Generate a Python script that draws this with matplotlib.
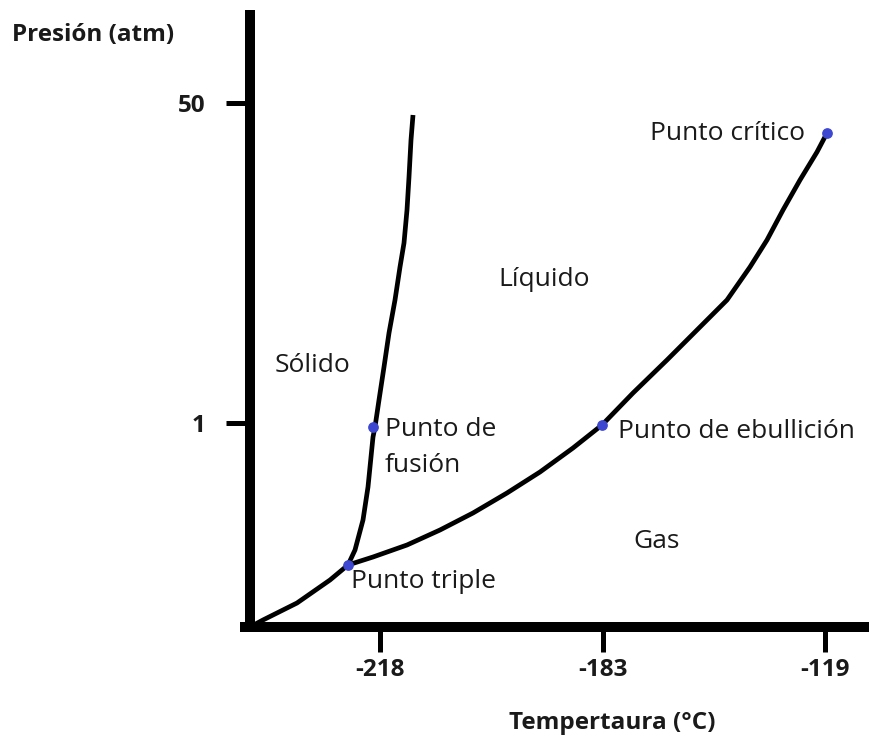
import matplotlib.pyplot as plt

# Schematic phase diagram; positions in drawing units (origin at the axes corner)
sub_x = [0, 13, 47, 80, 98]
sub_y = [0, 7, 24, 47, 62]

fus_x = [98, 105, 113, 118, 121, 123, 125, 129, 134, 139, 145, 150, 154, 157,
         159, 161, 163]
fus_y = [62, 77, 107, 140, 170, 190, 200, 227, 260, 294, 327, 360, 384, 417,
         450, 487, 512]

vap_x = [98, 123, 157, 190, 223, 257, 290, 323, 352, 383, 417, 450, 477,
         500, 517, 533, 550, 567, 577]
vap_y = [62, 70, 82, 97, 114, 134, 155, 179, 202, 234, 267, 300, 327,
         360, 387, 417, 447, 475, 494]

points_x = [98, 123, 352, 577]
points_y = [62, 200, 202, 494]

xtick_pos = [130, 353, 575]
xtick_labels = ['-218', '-183', '-119']
ytick_pos = [204, 524]
ytick_labels = ['1', '50']

plt.rcParams['font.family'] = ['Open Sans', 'DejaVu Sans']
txt = '#1a1a1a'

fig = plt.figure(figsize=(8.7, 7.42), dpi=100)
ax = fig.add_axes([0, 0, 1, 1])
ax.set_xlim(-250, 620)
ax.set_ylim(-115, 627)

for s in ['top', 'right']:
    ax.spines[s].set_visible(False)
ax.spines['left'].set_position(('data', 0))
ax.spines['bottom'].set_position(('data', 0))
ax.spines['left'].set_bounds(-5, 617)
ax.spines['bottom'].set_bounds(-5, 620)
ax.spines['left'].set_linewidth(7.2)
ax.spines['bottom'].set_linewidth(7.2)
ax.spines['left'].set_capstyle('butt')

ax.set_xticks(xtick_pos, xtick_labels)
ax.set_yticks(ytick_pos, ytick_labels)
ax.tick_params(axis='x', direction='out', length=18, width=3.6, pad=4,
               labelsize=17.5, colors='black', labelcolor=txt)
ax.tick_params(axis='y', direction='out', length=17, width=3.6, pad=15,
               labelsize=17.5, colors='black', labelcolor=txt)
for lab in ax.get_xticklabels() + ax.get_yticklabels():
    lab.set_fontweight('bold')

ax.plot(sub_x, sub_y, color='black', lw=3.4, solid_capstyle='round', solid_joinstyle='round')
ax.plot(fus_x, fus_y, color='black', lw=3.4, solid_capstyle='butt', solid_joinstyle='round')
ax.plot(vap_x, vap_y, color='black', lw=3.4, solid_capstyle='round', solid_joinstyle='round')
ax.scatter(points_x, points_y, s=45, color='#3d47d0', zorder=5)

fs = 19
ax.text(-238, 592, 'Presión (atm)', fontsize=17.5, fontweight='bold', color=txt,
        ha='left', va='center')
ax.text(362, -96, 'Tempertaura (°C)', fontsize=17.5, fontweight='bold', color=txt,
        ha='center', va='center')
ax.text(63, 262, 'Sólido', fontsize=fs, color=txt, ha='center', va='center')
ax.text(294, 347, 'Líquido', fontsize=fs, color=txt, ha='center', va='center')
ax.text(407, 85, 'Gas', fontsize=fs, color=txt, ha='center', va='center')
ax.text(135, 197, 'Punto de', fontsize=fs, color=txt, ha='left', va='center')
ax.text(135, 162, 'fusión', fontsize=fs, color=txt, ha='left', va='center')
ax.text(368, 195, 'Punto de ebullición', fontsize=fs, color=txt, ha='left', va='center')
ax.text(555, 494, 'Punto crítico', fontsize=fs, color=txt, ha='right', va='center')
ax.text(101, 45, 'Punto triple', fontsize=fs, color=txt, ha='left', va='center')

plt.savefig('out.png', dpi=100)
